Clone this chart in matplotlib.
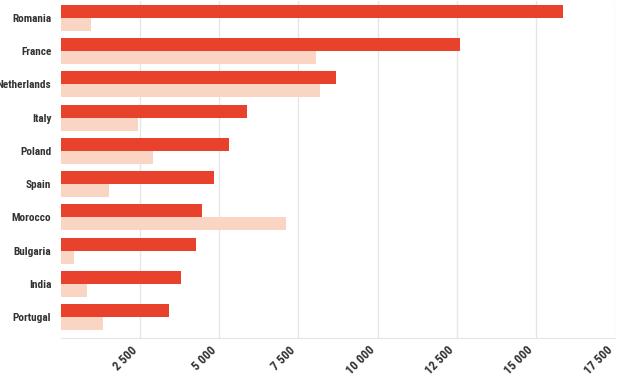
import numpy as np
import matplotlib.pyplot as plt
from matplotlib.ticker import FuncFormatter

# 数据
countries = ["Romania", "France", "Netherlands", "Italy", "Poland",
             "Spain", "Morocco", "Bulgaria", "India", "Portugal"]
series_a = [15850, 12600, 8690, 5890, 5310, 4830, 4450, 4270, 3780, 3410]
series_b = [950, 8050, 8170, 2420, 2910, 1520, 7100, 410, 830, 1340]
x_ticks = [2500, 5000, 7500, 10000, 12500, 15000, 17500]

plt.rcParams['font.family'] = ['Liberation Sans Narrow', 'Roboto Condensed', 'DejaVu Sans']

fig = plt.figure(figsize=(6.22, 3.78), dpi=100)
ax = fig.add_axes([61 / 622, 40 / 378, 554 / 622, 337 / 378])

y = np.arange(len(countries))
h = 0.39
ax.barh(y - h / 2, series_a, height=h, color="#e8412c", zorder=3)
ax.barh(y + h / 2, series_b, height=h, color="#fbd5c3", zorder=3)

ax.set_xlim(0, 17500)
ax.set_ylim(9.62, -0.5)
ax.set_yticks(y)
ax.set_yticklabels(countries, fontsize=8.1, fontweight="bold", color="#333333")
ax.set_xticks(x_ticks)
ax.xaxis.set_major_formatter(FuncFormatter(lambda v, p: f"{int(v):,}".replace(",", " ")))
for lab in ax.get_xticklabels():
    lab.set_rotation(45)
    lab.set_ha("right")
    lab.set_va("top")
    lab.set_fontsize(9)
    lab.set_fontweight("bold")
    lab.set_color("#333333")

ax.tick_params(axis="both", length=0)
ax.tick_params(axis="y", pad=7)
ax.tick_params(axis="x", pad=4)
ax.grid(axis="x", color="#e6e6e6", linewidth=1, zorder=0)
for s in ["top", "right", "left"]:
    ax.spines[s].set_visible(False)
ax.spines["bottom"].set_color("#e6e6e6")

fig.savefig("out.png", dpi=100)
